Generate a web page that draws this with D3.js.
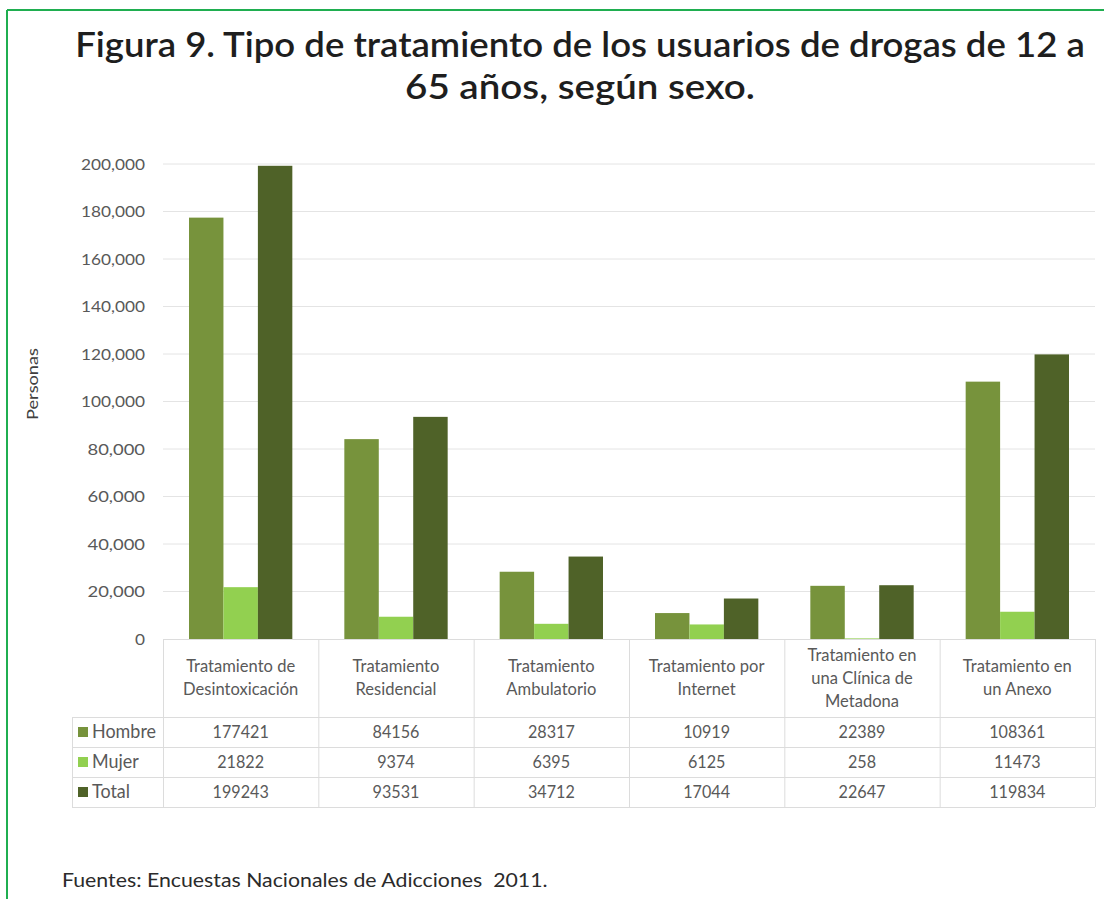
<!DOCTYPE html>
<html>
<head>
<meta charset="utf-8">
<script src="https://cdn.jsdelivr.net/npm/d3@7"></script>
<style>
  html, body { margin: 0; padding: 0; background: #fff; }
  svg { display: block; font-family: Lato, "Open Sans", sans-serif; }
</style>
</head>
<body>
<svg id="chart" width="1104" height="899"></svg>
<script>
// ---- data ----
const categories = [
  ["Tratamiento de", "Desintoxicación"],
  ["Tratamiento", "Residencial"],
  ["Tratamiento", "Ambulatorio"],
  ["Tratamiento por", "Internet"],
  ["Tratamiento en", "una Clínica de", "Metadona"],
  ["Tratamiento en", "un Anexo"]
];
const seriesNames = ["Hombre", "Mujer", "Total"];
const hombre = [177421, 84156, 28317, 10919, 22389, 108361];
const mujer  = [21822, 9374, 6395, 6125, 258, 11473];
const total  = [199243, 93531, 34712, 17044, 22647, 119834];
const yTicks = [0, 20000, 40000, 60000, 80000, 100000, 120000, 140000, 160000, 180000, 200000];
const titleLines = ["Figura 9. Tipo de tratamiento de los usuarios de drogas de 12 a", "65 años, según sexo."];
const yAxisTitle = "Personas";
const sourceText = "Fuentes: Encuestas Nacionales de Adicciones  2011.";

const seriesValues = [hombre, mujer, total];
const colors = ["#77933c", "#92d050", "#4f6228"];

// ---- layout ----
const svg = d3.select("#chart");
const plotLeft = 163, plotRight = 1095, plotTop = 164, plotBottom = 639;
const headerBottom = 717, rowH = 30, tableLeft = 72;

// condensed text helper: squeeze horizontally to a target width
function squeeze(textSel, cx, targetW) {
  const w = textSel.node().getComputedTextLength();
  const k = targetW / w;
  textSel.attr("transform", `translate(${cx},0) scale(${k},1) translate(${-cx},0)`);
  return k;
}

// border
svg.append("line").attr("x1", 7).attr("x2", 7).attr("y1", 10).attr("y2", 899)
  .attr("stroke", "#1fae50").attr("stroke-width", 2);
svg.append("line").attr("x1", 7).attr("x2", 1104).attr("y1", 10).attr("y2", 10)
  .attr("stroke", "#1fae50").attr("stroke-width", 2);

// title
const titleG = svg.append("g");
const t1 = titleG.append("text").attr("x", 580).attr("y", 57).attr("text-anchor", "middle")
  .attr("font-size", 35).attr("font-weight", 600).attr("fill", "#1e1e1e").text(titleLines[0]);
squeeze(t1, 580, 1010);
const t2 = titleG.append("text").attr("x", 580).attr("y", 99).attr("text-anchor", "middle")
  .attr("font-size", 35).attr("font-weight", 600).attr("fill", "#1e1e1e").text(titleLines[1]);
squeeze(t2, 580, 350);

// scales
const x0 = d3.scaleBand().domain(d3.range(categories.length)).range([plotLeft, plotRight]).paddingInner(0).paddingOuter(0);
const x1 = d3.scaleBand().domain(d3.range(seriesNames.length)).range([26, x0.bandwidth() - 26]).padding(0);
const y = d3.scaleLinear().domain([0, 200000]).range([plotBottom, plotTop]);

// gridlines
svg.append("g").selectAll("line").data(yTicks.filter(d => d > 0)).join("line")
  .attr("x1", plotLeft).attr("x2", plotRight)
  .attr("y1", d => y(d)).attr("y2", d => y(d))
  .attr("stroke", "#e4e4e4").attr("stroke-width", 1);

// y axis labels
const yAxis = d3.axisLeft(y).tickValues(yTicks).tickFormat(d3.format(",")).tickSize(0).tickPadding(0);
const yg = svg.append("g").attr("transform", "translate(145,0)").call(yAxis);
yg.select(".domain").remove();
yg.selectAll("text").attr("font-size", 16).attr("fill", "#595959").attr("font-family", "Lato, sans-serif");
yg.selectAll("text").each(function() {
  const w = this.getComputedTextLength();
  const kk = (w > 40 ? 64 : 10) / w;
  d3.select(this).attr("transform", `scale(${Math.min(kk, 1.15)},1)`);
});

// y axis title
const yt = svg.append("text").attr("x", 0).attr("y", 0).attr("text-anchor", "middle")
  .attr("font-size", 16).attr("fill", "#404040").text(yAxisTitle);
const ytw = yt.node().getComputedTextLength();
yt.attr("transform", `translate(38,384) rotate(-90) scale(${72 / ytw},1)`);

// bars
const barG = svg.append("g");
categories.forEach((c, i) => {
  seriesValues.forEach((vals, s) => {
    barG.append("rect")
      .attr("x", x0(i) + x1(s))
      .attr("width", x1.bandwidth())
      .attr("y", y(vals[i]))
      .attr("height", plotBottom - y(vals[i]))
      .attr("fill", colors[s]);
  });
});

// table lines
const tbl = svg.append("g").attr("stroke", "#dcdcdc").attr("stroke-width", 1);
tbl.append("line").attr("x1", plotLeft).attr("x2", plotRight).attr("y1", plotBottom + 0.5).attr("y2", plotBottom + 0.5);
for (let r = 0; r <= 3; r++) {
  const yy = headerBottom + r * rowH + 0.5;
  tbl.append("line").attr("x1", tableLeft).attr("x2", plotRight).attr("y1", yy).attr("y2", yy);
}
d3.range(categories.length + 1).forEach(i => {
  const xx = (i < categories.length ? x0(i) : plotRight) + 0.5;
  tbl.append("line").attr("x1", xx).attr("x2", xx).attr("y1", plotBottom).attr("y2", headerBottom + 3 * rowH);
});
tbl.append("line").attr("x1", tableLeft + 0.5).attr("x2", tableLeft + 0.5).attr("y1", headerBottom).attr("y2", headerBottom + 3 * rowH);

// category labels (squeezed like Calibri)
const catG = svg.append("g");
const catScale = 0.92;
categories.forEach((lines, i) => {
  const cx = x0(i) + x0.bandwidth() / 2;
  const lh = 23;
  const startY = (plotBottom + headerBottom) / 2 - (lines.length - 1) * lh / 2 + 6;
  const t = catG.append("text").attr("text-anchor", "middle").attr("font-size", 18).attr("fill", "#595959")
    .attr("transform", `translate(${cx},0) scale(${catScale},1) translate(${-cx},0)`);
  lines.forEach((ln, j) => {
    t.append("tspan").attr("x", cx).attr("y", startY + j * lh).text(ln);
  });
});

// rows
const rowG = svg.append("g");
seriesNames.forEach((name, s) => {
  const cy = headerBottom + s * rowH + rowH / 2;
  rowG.append("rect").attr("x", 78).attr("y", cy - 5).attr("width", 10).attr("height", 10).attr("fill", colors[s]);
  rowG.append("text").attr("x", 92).attr("y", cy + 6).attr("font-size", 18.5).attr("fill", "#595959")
    .attr("transform", `translate(92,0) scale(0.97,1) translate(-92,0)`).text(name);
  seriesValues[s].forEach((v, i) => {
    const cx = x0(i) + x0.bandwidth() / 2;
    rowG.append("text").attr("x", cx).attr("y", cy + 6)
      .attr("text-anchor", "middle").attr("font-size", 17).attr("fill", "#595959")
      .attr("transform", `translate(${cx},0) scale(0.95,1) translate(${-cx},0)`).text(v);
  });
});

// source
const src = svg.append("text").attr("x", 62).attr("y", 887).attr("font-size", 19).attr("fill", "#2b2b2b")
  .style("white-space", "pre").text(sourceText);
squeeze(src, 62, 486);
</script>
</body>
</html>
